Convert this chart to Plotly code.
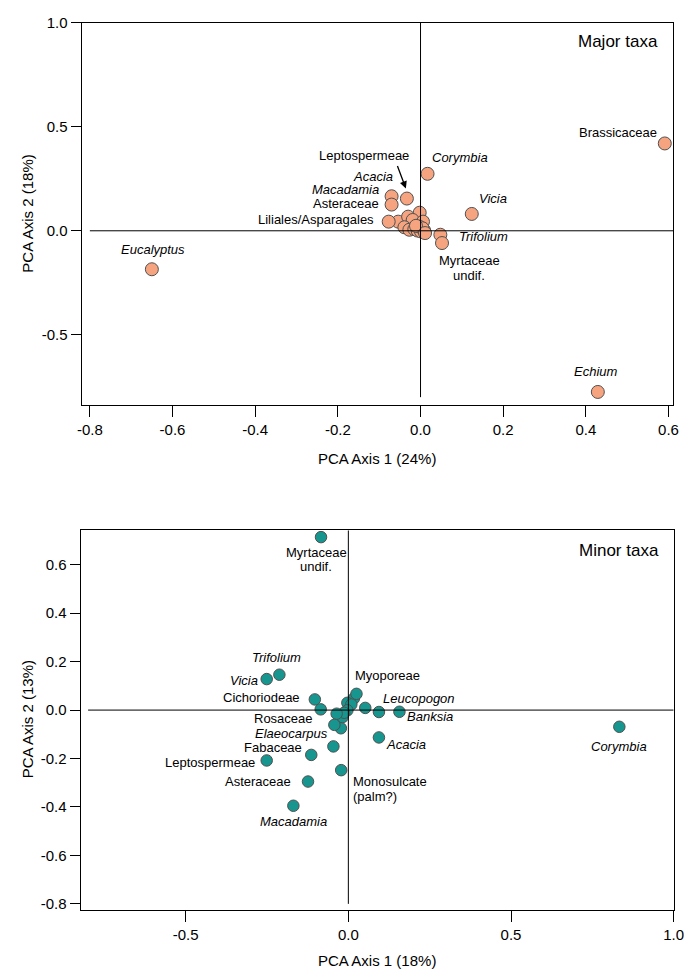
import plotly.graph_objects as go

# ---------------- Major taxa (PCA scores) ----------------
major_named = ["Eucalyptus", "Brassicaceae", "Echium", "Corymbia", "Vicia",
               "Trifolium", "Myrtaceae undif.", "Acacia", "Macadamia",
               "Asteraceae", "Liliales/Asparagales"]
major_named_x = [-0.650, 0.591, 0.429, 0.017, 0.124, 0.048, 0.052, -0.033,
                 -0.070, -0.070, -0.077]
major_named_y = [-0.185, 0.420, -0.775, 0.274, 0.081, -0.019, -0.059, 0.155,
                 0.166, 0.126, 0.044]
major_other_x = [-0.054, -0.002, -0.030, -0.019, 0.006, -0.039, -0.027, -0.015,
                 -0.007, 0.001, 0.009, -0.003, 0.005, -0.011, 0.011]
major_other_y = [0.044, 0.087, 0.068, 0.052, 0.044, 0.017, 0.005, 0.008,
                 0.001, -0.003, 0.001, 0.020, 0.012, 0.024, -0.011]

# ---------------- Minor taxa (PCA scores) ----------------
minor_named = ["Myrtaceae undif.", "Trifolium", "Vicia", "Cichoriodeae",
               "Rosaceae", "Elaeocarpus", "Fabaceae", "Leptospermeae",
               "Asteraceae", "Macadamia", "Monosulcate (palm?)", "Acacia",
               "Banksia", "Leucopogon", "Myoporeae", "Corymbia"]
minor_named_x = [-0.084, -0.212, -0.251, -0.103, -0.036, -0.043, -0.114,
                 -0.251, -0.124, -0.169, -0.022, 0.094, 0.157, 0.094, 0.025,
                 0.833]
minor_named_y = [0.714, 0.146, 0.128, 0.044, -0.015, -0.061, -0.185, -0.208,
                 -0.295, -0.395, -0.248, -0.113, -0.007, -0.008, 0.067,
                 -0.069]
minor_other_x = [-0.085, -0.018, -0.023, -0.046, 0.052, 0.017, -0.003, 0.009,
                 -0.003, -0.013]
minor_other_y = [0.003, -0.029, -0.075, -0.150, 0.009, 0.048, 0.030, 0.023,
                 -0.001, -0.011]

top_xticks = [-0.8, -0.6, -0.4, -0.2, 0.0, 0.2, 0.4, 0.6]
top_yticks = [-0.5, 0.0, 0.5, 1.0]
bot_xticks = [-0.5, 0.0, 0.5, 1.0]
bot_yticks = [-0.8, -0.6, -0.4, -0.2, 0.0, 0.2, 0.4, 0.6]

ITALIC = {"Eucalyptus", "Echium", "Corymbia", "Vicia", "Trifolium", "Acacia",
          "Macadamia", "Elaeocarpus", "Banksia", "Leucopogon"}

FONT = "Liberation Sans, Arial, Helvetica, sans-serif"
ORANGE = "#F5A47F"
TEAL = "#17968F"
EDGE = "#505050"


def fmt(v):
    return f"{v:.1f}".replace("\u2212", "-")


fig = go.Figure()

# points
fig.add_trace(go.Scatter(
    x=major_other_x + major_named_x, y=major_other_y + major_named_y,
    mode="markers", xaxis="x", yaxis="y", hoverinfo="skip",
    marker=dict(size=13, color=ORANGE, line=dict(color=EDGE, width=1))))
fig.add_trace(go.Scatter(
    x=minor_other_x + minor_named_x, y=minor_other_y + minor_named_y,
    mode="markers", xaxis="x2", yaxis="y2", hoverinfo="skip",
    marker=dict(size=11.5, color=TEAL, line=dict(color=EDGE, width=1))))

# reference lines through the origin
fig.add_shape(type="line", xref="x", yref="y", x0=0, x1=0, y0=-0.8, y1=1.0,
              line=dict(color="black", width=1))
fig.add_shape(type="line", xref="x", yref="y", x0=-0.8, x1=0.612, y0=0, y1=0,
              line=dict(color="black", width=1))
fig.add_shape(type="line", xref="x2", yref="y2", x0=0, x1=0, y0=-0.8, y1=0.742,
              line=dict(color="black", width=1))
fig.add_shape(type="line", xref="x2", yref="y2", x0=-0.8, x1=1.0, y0=0, y1=0,
              line=dict(color="black", width=1))

# label placement: (text lines, xanchor, xshift, yshift per line)
major_lab = {
    "Eucalyptus": ("center", 1, [20]),
    "Brassicaceae": ("right", -6, [11]),
    "Echium": ("center", -2, [20]),
    "Corymbia": ("left", 2, [16]),
    "Vicia": ("left", 5, [15]),
    "Trifolium": ("left", 17, [-2]),
    "Myrtaceae undif.": ("center", 27, [-17, -32]),
    "Acacia": ("right", -12, [22]),
    "Macadamia": ("right", -11, [7]),
    "Asteraceae": ("right", -11, [1]),
    "Liliales/Asparagales": ("right", -13, [2]),
}
minor_lab = {
    "Myrtaceae undif.": ("center", -5, [-15, -29]),
    "Trifolium": ("center", -3, [17]),
    "Vicia": ("right", -7, [-1]),
    "Cichoriodeae": ("right", -13, [2]),
    "Rosaceae": ("right", -22, [-5]),
    "Elaeocarpus": ("right", -4, [-9]),
    "Fabaceae": ("right", -7, [7]),
    "Leptospermeae": ("right", -10, [-2]),
    "Asteraceae": ("right", -15, [0]),
    "Macadamia": ("center", 0, [-16]),
    "Monosulcate (palm?)": ("left", 10, [-11, -26]),
    "Acacia": ("left", 5, [-7]),
    "Banksia": ("left", 6, [-5]),
    "Leucopogon": ("left", 2, [14]),
    "Myoporeae": ("left", -3, [18]),
    "Corymbia": ("center", 0, [-20]),
}

annotations = []


def add_labels(names, xs, ys, spec, xr, yr):
    for name, x, y in zip(names, xs, ys):
        anchor, dx, dys = spec[name]
        if len(dys) == 2:
            parts = name.split(" ", 1)
        else:
            parts = [name]
        for part, dy in zip(parts, dys):
            txt = f"<i>{part}</i>" if name in ITALIC else part
            annotations.append(dict(
                x=x, y=y, xref=xr, yref=yr, text=txt, showarrow=False,
                xanchor=anchor, yanchor="middle", xshift=dx, yshift=dy,
                font=dict(size=13, color="black", family=FONT)))


add_labels(major_named, major_named_x, major_named_y, major_lab, "x", "y")
add_labels(minor_named, minor_named_x, minor_named_y, minor_lab, "x2", "y2")

# Leptospermeae label with arrow onto the cluster (top panel)
lep_i = major_named.index("Acacia")
annotations.append(dict(
    x=major_named_x[lep_i], y=major_named_y[lep_i], xref="x", yref="y",
    text="Leptospermeae", showarrow=False, xanchor="center", yanchor="middle",
    xshift=-43, yshift=43, font=dict(size=13, color="black", family=FONT)))
annotations.append(dict(
    x=major_named_x[lep_i], y=major_named_y[lep_i], xref="x", yref="y",
    text="", showarrow=True, arrowhead=2, arrowsize=1.1, arrowwidth=1.3,
    arrowcolor="black", ax=-9, ay=-24, xshift=-1, yshift=10, standoff=0))

# panel titles
annotations.append(dict(x=0.978, y=0.951, xref="x domain", yref="y domain",
                        text="Major taxa", showarrow=False, xanchor="right",
                        yanchor="middle",
                        font=dict(size=17, color="black", family=FONT)))
annotations.append(dict(x=0.978, y=0.946, xref="x2 domain", yref="y2 domain",
                        text="Minor taxa", showarrow=False, xanchor="right",
                        yanchor="middle",
                        font=dict(size=17, color="black", family=FONT)))

# axis titles
W, H = 691, 972
for txt, px, py, rot in [("PCA Axis 1 (24%)", 380, 455, 0),
                         ("PCA Axis 2 (18%)", 23, 207.5, -90),
                         ("PCA Axis 1 (18%)", 380, 962, 0),
                         ("PCA Axis 2 (13%)", 23, 719, -90)]:
    annotations.append(dict(x=px / W, y=1 - py / H, xref="paper", yref="paper",
                            text=txt, showarrow=False, textangle=rot,
                            xanchor="center", yanchor="middle",
                            font=dict(size=15, color="black", family=FONT)))

axis_common = dict(showgrid=False, zeroline=False, showline=True, mirror=True,
                   linecolor="black", linewidth=1, ticks="outside",
                   tickcolor="black", tickwidth=1,
                   tickfont=dict(size=15, color="black", family=FONT))

fig.update_layout(
    width=W, height=H, margin=dict(l=0, r=0, t=0, b=0),
    paper_bgcolor="white", plot_bgcolor="white", showlegend=False,
    font=dict(family=FONT, color="black"),
    xaxis=dict(domain=[78.3 / W, 683.3 / W], range=[-0.820, 0.612],
               tickvals=top_xticks, ticktext=[fmt(v) for v in top_xticks],
               ticklen=11, anchor="y", **axis_common),
    yaxis=dict(domain=[1 - 401 / H, 1 - 14 / H], range=[-0.840, 1.0],
               tickvals=top_yticks, ticktext=[fmt(v) for v in top_yticks],
               ticklen=10, anchor="x", **axis_common),
    xaxis2=dict(domain=[77.3 / W, 683.5 / W], range=[-0.823, 1.0],
                tickvals=bot_xticks, ticktext=[fmt(v) for v in bot_xticks],
                ticklen=11, anchor="y2", **axis_common),
    yaxis2=dict(domain=[1 - 911 / H, 1 - 527.3 / H], range=[-0.824, 0.742],
                tickvals=bot_yticks, ticktext=[fmt(v) for v in bot_yticks],
                ticklen=10, anchor="x2", **axis_common),
    annotations=annotations,
)

fig.write_html("out.html")
